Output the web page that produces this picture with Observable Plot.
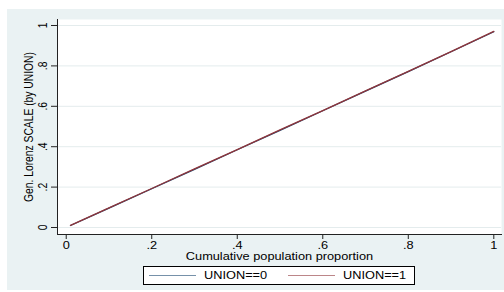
<!DOCTYPE html>
<html>
<head>
<meta charset="utf-8">
<script src="https://cdn.jsdelivr.net/npm/d3@7"></script>
<script src="https://cdn.jsdelivr.net/npm/@observablehq/plot@0.6"></script>
<style>
  body { margin: 0; background: #ffffff; }
  #wrap { position: relative; width: 504px; height: 292px; overflow: hidden; background: #ffffff; font-family: "Liberation Sans", Arial, Helvetica, sans-serif; }
  #bg { position: absolute; left: 7px; top: 9px; right: 0; bottom: 2px; background: #eaf2f3; }
  #chart { position: absolute; left: 0; top: 0; }
  #legend { position: absolute; left: 143px; top: 266px; width: 272px; height: 19px; box-sizing: border-box; border: 1px solid #000; background: #fff; font-size: 10.3px; color: #000; }
  .ln { position: absolute; top: 8px; height: 0; border-top: 1.5px solid; opacity: 0.6; }
  .lt { position: absolute; top: 2px; line-height: 13px; transform: scaleX(1.24); transform-origin: 0 50%; white-space: nowrap; }
</style>
</head>
<body>
<div id="wrap">
  <div id="bg"></div>
  <div id="chart"></div>
  <div id="legend"></div>
</div>
<script>
// Data
const prop = [0.01, 0.1, 0.2, 0.3, 0.4, 0.5, 0.6, 0.7, 0.8, 0.9, 1.0];
const union0 = [0.010, 0.096, 0.192, 0.288, 0.385, 0.481, 0.578, 0.675, 0.772, 0.870, 0.969];
const union1 = [0.011, 0.097, 0.193, 0.290, 0.386, 0.483, 0.579, 0.676, 0.773, 0.871, 0.971];
const seriesNames = ["UNION==0", "UNION==1"];
const seriesColors = ["#1a476f", "#90353b"];
const xTicks = [0, 0.2, 0.4, 0.6, 0.8, 1];
const xTickLabels = ["0", ".2", ".4", ".6", ".8", "1"];
const yTicks = [0, 0.2, 0.4, 0.6, 0.8, 1];
const yTickLabels = ["0", ".2", ".4", ".6", ".8", "1"];
const xTitle = "Cumulative population proportion";
const yTitle = "Gen. Lorenz SCALE (by UNION)";

const rows = [];
prop.forEach((p, i) => rows.push({p, v: union0[i], s: seriesNames[0]}));
prop.forEach((p, i) => rows.push({p, v: union1[i], s: seriesNames[1]}));

const FS = 10.3;
const chart = Plot.plot({
  width: 504,
  height: 264,
  marginLeft: 57,
  marginRight: 3,
  marginTop: 19,
  marginBottom: 30,
  style: { background: "transparent", fontFamily: "'Liberation Sans', Arial, Helvetica, sans-serif", fontSize: FS + "px", color: "#000" },
  x: { domain: [-0.0204, 1.018] },
  y: { domain: [-0.0346, 1.0297] },
  color: { domain: seriesNames, range: seriesColors },
  marks: [
    Plot.frame({ fill: "white", stroke: null }),
    Plot.ruleY(yTicks, { stroke: "#e4eced", strokeWidth: 1 }),
    Plot.axisX({ ticks: xTicks, tickFormat: d => xTickLabels[xTicks.indexOf(d)], tickSize: 5, tickPadding: 2, label: null, fontSize: FS, stroke: "#222" }),
    Plot.axisY({ ticks: yTicks, tickFormat: () => "", tickSize: 6, label: null, stroke: "#222" }),
    Plot.frame({ anchor: "left", stroke: "#222" }),
    Plot.frame({ anchor: "bottom", stroke: "#222" }),
    Plot.text(yTicks, { y: d => d, text: d => yTickLabels[yTicks.indexOf(d)], frameAnchor: "left", textAnchor: "middle", lineAnchor: "middle", dx: -15, rotate: -90, fontSize: FS, fill: "#000" }),
    Plot.text([yTitle], { frameAnchor: "left", textAnchor: "middle", lineAnchor: "middle", dx: -29, rotate: -90, fontSize: FS, fill: "#000" }),
    Plot.text([xTitle], { frameAnchor: "bottom", textAnchor: "middle", lineAnchor: "middle", dy: 22, fontSize: FS, fill: "#000" }),
    Plot.line(rows, { x: "p", y: "v", z: "s", stroke: "s", strokeWidth: 1.3 })
  ]
});
document.getElementById("chart").appendChild(chart);

// Stata export looks horizontally stretched: widen glyphs about their own centres
const S = 1.24;
chart.querySelectorAll("text").forEach(t => {
  const b = t.getBBox();
  const tr = t.getAttribute("transform") || "";
  if (/rotate/.test(tr)) {
    const cy = b.y + b.height / 2;
    t.setAttribute("transform", tr + ` translate(0,${cy}) scale(1,${S}) translate(0,${-cy})`);
  } else {
    const cx = b.x + b.width / 2;
    t.setAttribute("transform", tr + ` translate(${cx},0) scale(${S},1) translate(${-cx},0)`);
  }
});

// Legend (below the SVG)
const legend = document.getElementById("legend");
const legendItems = [
  { name: seriesNames[0], color: seriesColors[0], lx: 5, lw: 47, tx: 60 },
  { name: seriesNames[1], color: seriesColors[1], lx: 144, lw: 47, tx: 199 }
];
legendItems.forEach(it => {
  const l = document.createElement("div");
  l.className = "ln";
  l.style.left = it.lx + "px";
  l.style.width = it.lw + "px";
  l.style.borderTopColor = it.color;
  legend.appendChild(l);
  const t = document.createElement("div");
  t.className = "lt";
  t.style.left = it.tx + "px";
  t.textContent = it.name;
  legend.appendChild(t);
});
</script>
</body>
</html>
